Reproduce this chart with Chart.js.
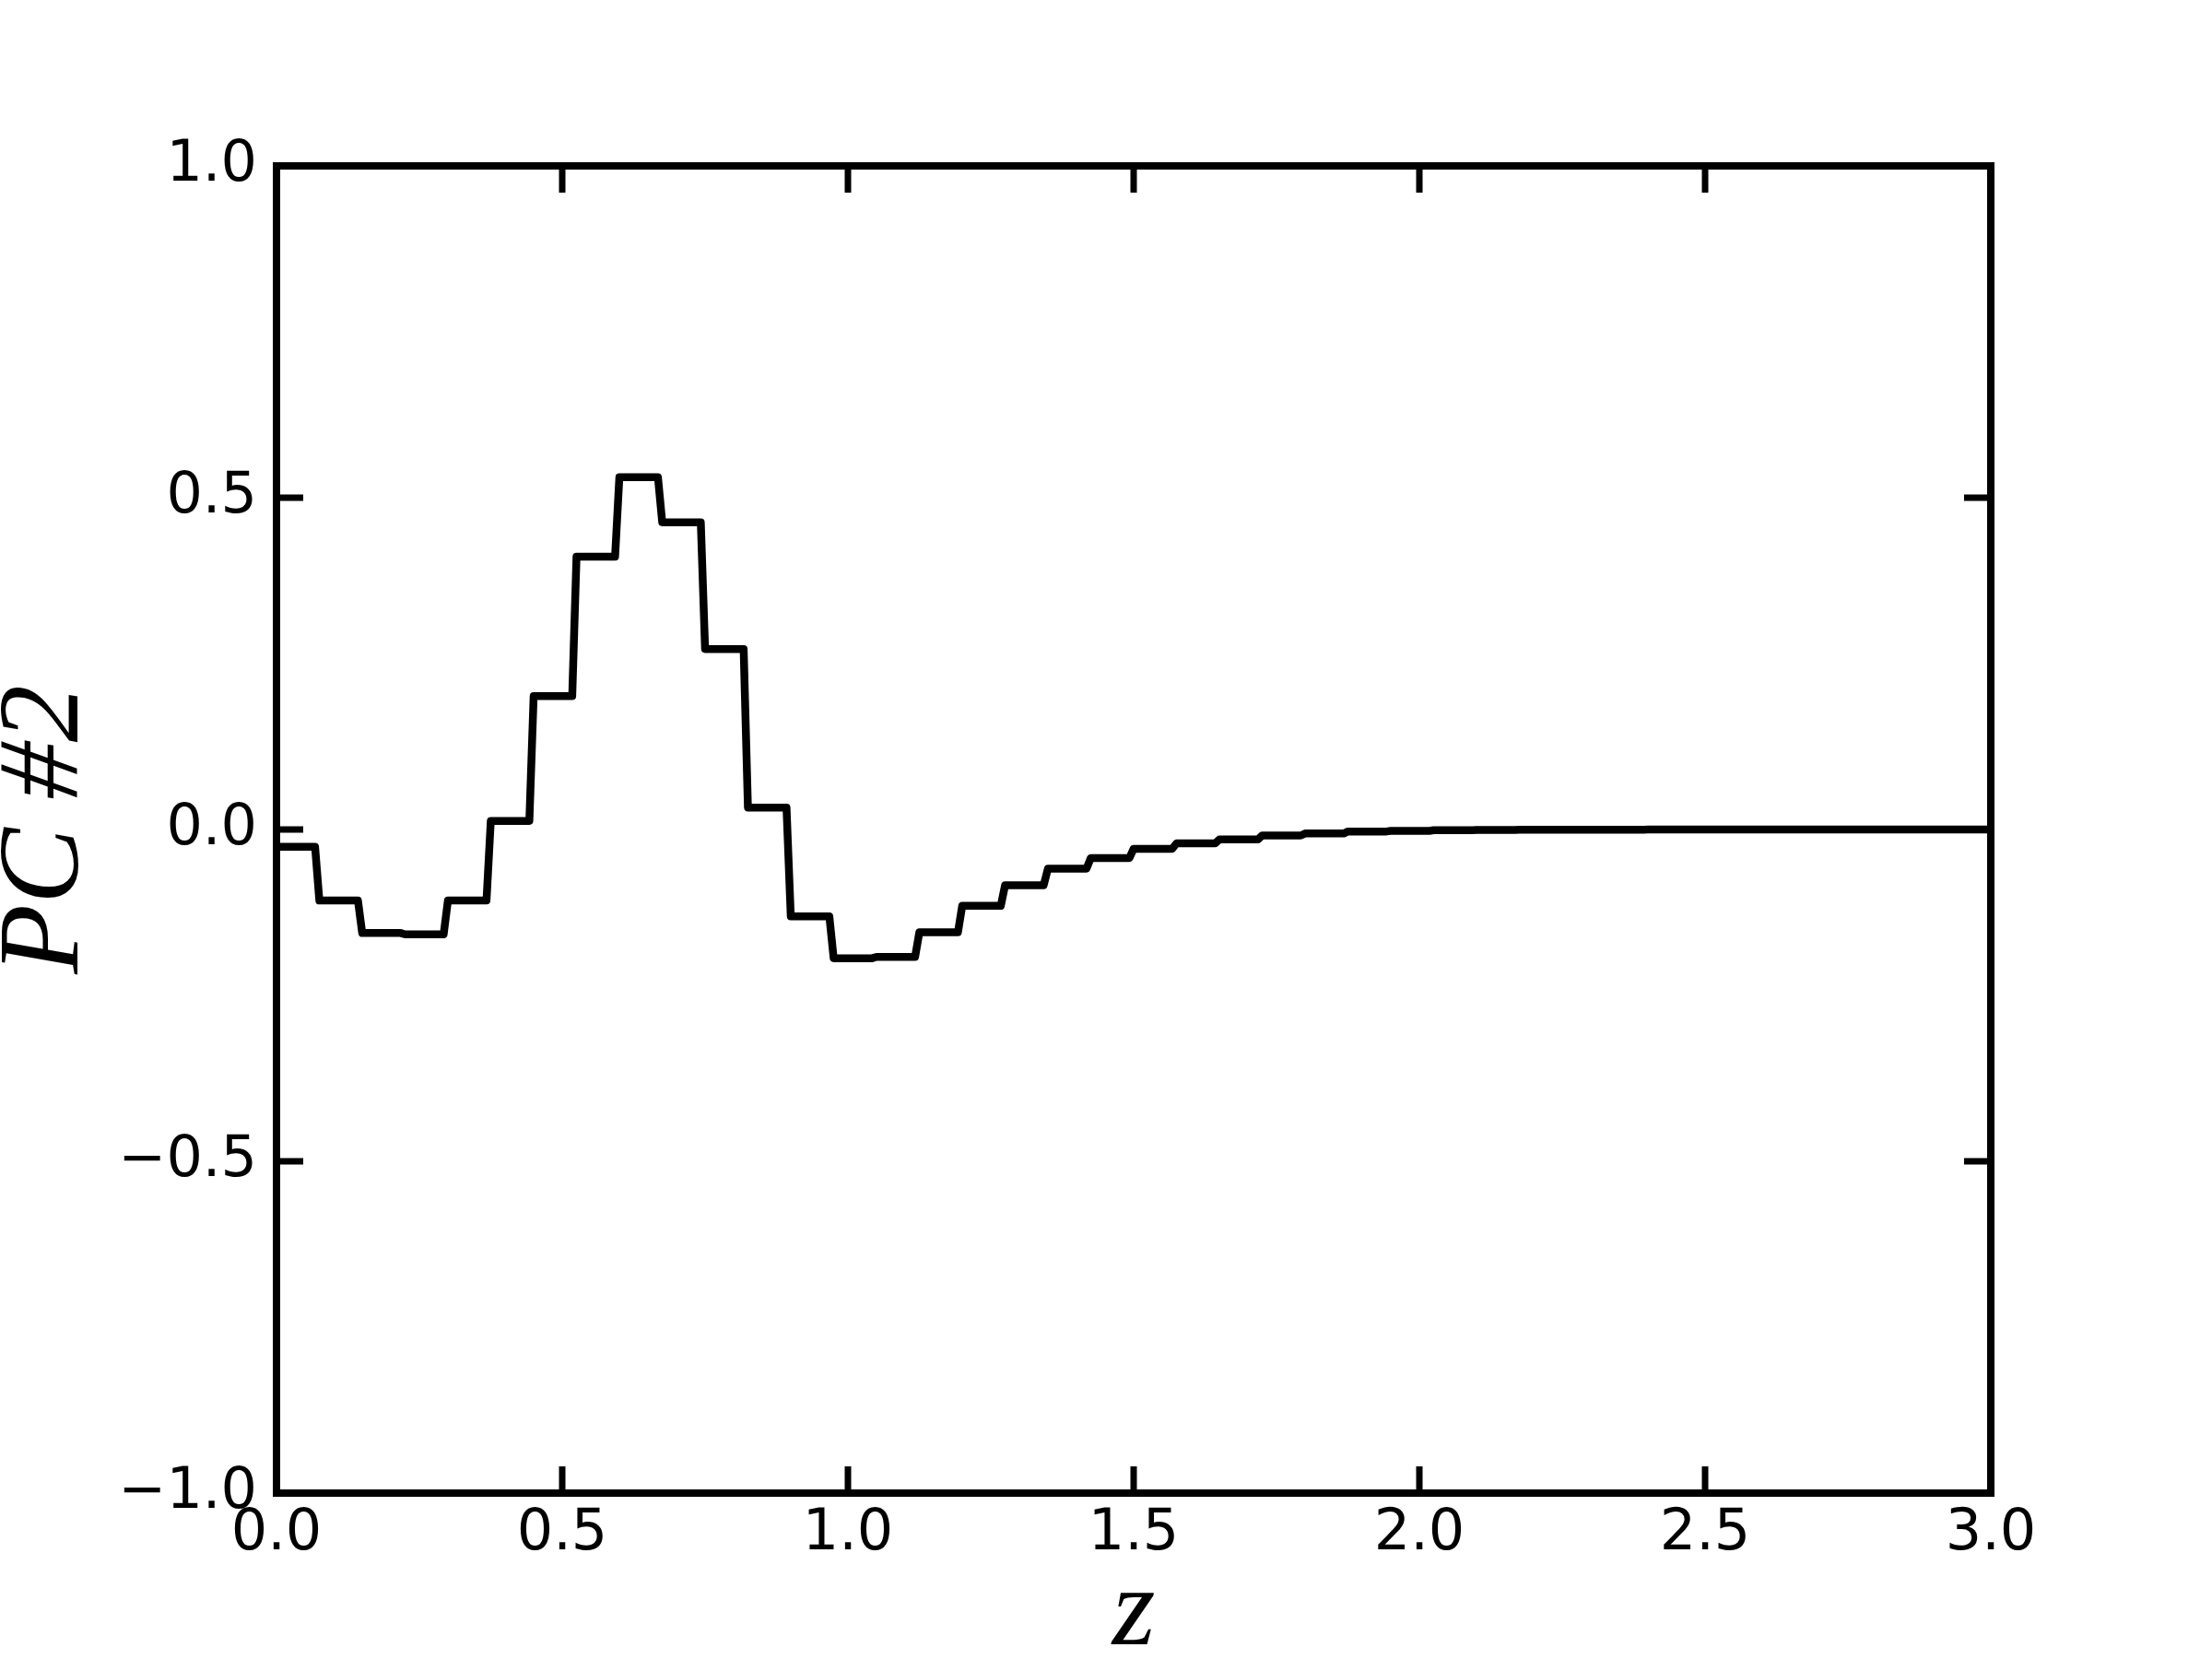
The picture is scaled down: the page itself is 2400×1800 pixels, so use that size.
<!DOCTYPE html>
<html>
<head>
<meta charset="utf-8">
<script src="https://cdn.jsdelivr.net/npm/chart.js@4.4.1/dist/chart.umd.min.js"></script>
<style>
  html, body { margin: 0; padding: 0; background: #fff; }
  #wrap { width: 2400px; height: 1800px; }
</style>
</head>
<body>
<div id="wrap"><canvas id="pc2"></canvas></div>
<script>
// redshift bin edges (40 bins of 0.075)
const binEdges = [0, 0.075, 0.15, 0.225, 0.3, 0.375, 0.45, 0.525, 0.6, 0.675,
  0.75, 0.825, 0.9, 0.975, 1.05, 1.125, 1.2, 1.275, 1.35, 1.425,
  1.5, 1.575, 1.65, 1.725, 1.8, 1.875, 1.95, 2.025, 2.1, 2.175,
  2.25, 2.325, 2.4, 2.475, 2.55, 2.625, 2.7, 2.775, 2.85, 2.925, 3.0];

// PC #2 amplitude in each bin
const pcValues = [-0.026, -0.107, -0.156, -0.158, -0.107, 0.013, 0.201, 0.411, 0.531, 0.463,
  0.272, 0.033, -0.131, -0.194, -0.192, -0.155, -0.115, -0.084, -0.059, -0.043,
  -0.029, -0.021, -0.015, -0.009, -0.006, -0.003, -0.002, -0.001, -0.0006, -0.0004,
  -0.0003, -0.0002, -0.0001, -0.0001, 0, 0, 0, 0, 0, 0];

const xTicks = [0, 0.5, 1.0, 1.5, 2.0, 2.5, 3.0];
const yTicks = [-1.0, -0.5, 0.0, 0.5, 1.0];

const xLabel = 'z';
const yLabel = 'PC #2';

// the curve was sampled on a fine grid, so each jump takes one sample step
const RAMP = 0.0075;

const pts = [];
pcValues.forEach((v, i) => {
  pts.push({ x: binEdges[i], y: v });
  const end = i === pcValues.length - 1 ? binEdges[i + 1] : binEdges[i + 1] - RAMP;
  pts.push({ x: end, y: v });
});

const TICK_LEN = 29;

// matplotlib-style frame with inward ticks on all four sides
const frame = {
  id: 'frame',
  afterDatasetsDraw(chart) {
    const { ctx, chartArea: a, scales } = chart;
    ctx.save();
    ctx.strokeStyle = '#000';
    ctx.lineWidth = 7;
    ctx.lineCap = 'butt';
    ctx.beginPath();
    scales.x.ticks.forEach(t => {
      const px = scales.x.getPixelForValue(t.value);
      ctx.moveTo(px, a.bottom); ctx.lineTo(px, a.bottom - TICK_LEN);
      ctx.moveTo(px, a.top); ctx.lineTo(px, a.top + TICK_LEN);
    });
    scales.y.ticks.forEach(t => {
      const py = scales.y.getPixelForValue(t.value);
      ctx.moveTo(a.left, py); ctx.lineTo(a.left + TICK_LEN, py);
      ctx.moveTo(a.right, py); ctx.lineTo(a.right - TICK_LEN, py);
    });
    ctx.stroke();
    ctx.lineWidth = 8;
    ctx.strokeRect(a.left, a.top, a.right - a.left, a.bottom - a.top);
    ctx.restore();
  }
};

Chart.defaults.color = '#000';
Chart.defaults.font.family = '"DejaVu Sans", sans-serif';

new Chart(document.getElementById('pc2'), {
  type: 'line',
  data: {
    datasets: [{
      data: pts,
      borderColor: '#000',
      borderWidth: 8.5,
      borderJoinStyle: 'round',
      borderCapStyle: 'round',
      pointRadius: 0,
      tension: 0,
      fill: false
    }]
  },
  options: {
    responsive: true,
    maintainAspectRatio: false,
    animation: false,
    layout: { padding: { top: 180, right: 240, left: 0, bottom: 0 } },
    plugins: { legend: { display: false }, tooltip: { enabled: false } },
    scales: {
      x: {
        type: 'linear',
        min: 0,
        max: 3,
        afterBuildTicks: s => { s.ticks = xTicks.map(v => ({ value: v })); },
        afterFit: s => { s.height = 180; },
        grid: { display: false, drawTicks: false },
        border: { display: false },
        ticks: {
          font: { size: 62 },
          padding: 8,
          callback: v => v.toFixed(1)
        },
        title: {
          display: true,
          text: xLabel,
          font: { family: '"Liberation Serif", serif', style: 'italic', size: 120, lineHeight: 0.8 },
          padding: { top: 0, bottom: 0 }
        }
      },
      y: {
        type: 'linear',
        min: -1,
        max: 1,
        afterBuildTicks: s => { s.ticks = yTicks.map(v => ({ value: v })); },
        afterFit: s => { s.width = 300; },
        grid: { display: false, drawTicks: false },
        border: { display: false },
        ticks: {
          font: { size: 62 },
          padding: 21,
          callback: v => (v < 0 ? '\u2212' : '') + Math.abs(v).toFixed(1)
        },
        title: {
          display: true,
          text: yLabel,
          font: { family: '"Liberation Serif", serif', style: 'italic', size: 124, lineHeight: 0.8 },
          padding: { top: 2, bottom: 0 }
        }
      }
    }
  },
  plugins: [frame]
});
</script>
</body>
</html>
